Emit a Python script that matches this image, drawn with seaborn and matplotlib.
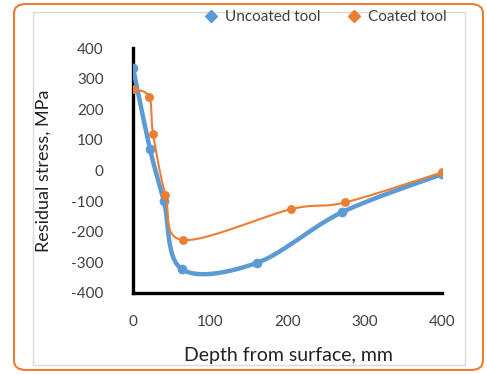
import numpy as np
import pandas as pd
import matplotlib
matplotlib.use("Agg")
import matplotlib.pyplot as plt
from matplotlib.patches import FancyBboxPatch, Rectangle
from matplotlib.lines import Line2D
import seaborn as sns

# Measured residual stress profiles
uncoated_depth = [0, 22, 40, 63, 160, 270, 400]
uncoated_stress = [335, 70, -100, -322, -302, -137, -12]
coated_depth = [0, 21, 26, 42, 65, 205, 275, 400]
coated_stress = [265, 241, 119, -80, -227, -126, -104, -6]

x_ticks = [0, 100, 200, 300, 400]
y_ticks = [-400, -300, -200, -100, 0, 100, 200, 300, 400]

BLUE = "#5B9BD5"
ORANGE = "#ED7D31"
TEXT = "#404040"


def smooth_curve(xs, ys, n=40):
    """Spreadsheet-style smoothed line: cubic Bezier segments with
    Catmull-Rom control points."""
    p = np.column_stack([xs, ys]).astype(float)
    m = len(p)
    out = [p[0]]
    t = np.linspace(0, 1, n)[1:, None]
    for i in range(m - 1):
        p0 = p[i - 1] if i > 0 else p[i]
        p1, p2 = p[i], p[i + 1]
        p3 = p[i + 2] if i + 2 < m else p[i + 1]
        c1 = p1 + (p2 - p0) / 6.0
        c2 = p2 - (p3 - p1) / 6.0
        seg = ((1 - t) ** 3) * p1 + 3 * ((1 - t) ** 2) * t * c1 \
            + 3 * (1 - t) * t ** 2 * c2 + t ** 3 * p2
        out.extend(seg)
    out = np.array(out)
    return out[:, 0], out[:, 1]


sns.set_theme(style="white")
plt.rcParams["font.family"] = ["Lato", "DejaVu Sans"]

fig = plt.figure(figsize=(4.87, 3.74), dpi=100)
W, H = 487, 374

# Outer rounded orange border and inner light frame
fig.patches.append(FancyBboxPatch((14 / W, 4 / H), 469 / W, 366 / H,
                                  boxstyle="round,pad=0,rounding_size=0.025",
                                  transform=fig.transFigure, fill=False,
                                  edgecolor=ORANGE, linewidth=1.5, zorder=0))
fig.patches.append(Rectangle((33 / W, 9 / H), 432 / W, 353 / H,
                             transform=fig.transFigure, fill=False,
                             edgecolor="#d9d9d9", linewidth=1.0, zorder=0))

ax = fig.add_axes([133 / W, 1 - 293 / H, (442 - 133) / W, (293 - 48) / H])
ax.set_facecolor("none")

df_u = pd.DataFrame({"depth": uncoated_depth, "stress": uncoated_stress})
df_c = pd.DataFrame({"depth": coated_depth, "stress": coated_stress})

xu, yu = smooth_curve(df_u["depth"], df_u["stress"])
xc, yc = smooth_curve(df_c["depth"], df_c["stress"])
sns.lineplot(x=xu, y=yu, sort=False, color=BLUE, linewidth=3.2, ax=ax,
             estimator=None, zorder=3)
sns.scatterplot(data=df_u, x="depth", y="stress", color=BLUE, s=42,
                edgecolor=BLUE, linewidth=0.5, ax=ax, zorder=4)
sns.lineplot(x=xc, y=yc, sort=False, color=ORANGE, linewidth=1.5, ax=ax,
             estimator=None, zorder=5)
sns.scatterplot(data=df_c, x="depth", y="stress", color=ORANGE, s=34,
                edgecolor=ORANGE, linewidth=0.5, ax=ax, zorder=6)

ax.set_xlim(0, 400)
ax.set_ylim(-400, 400)
ax.set_xticks(x_ticks)
ax.set_yticks(y_ticks)
ax.set_xticklabels([str(v) for v in x_ticks])
ax.set_yticklabels([str(v) for v in y_ticks])

for side in ("top", "right"):
    ax.spines[side].set_visible(False)
for side in ("left", "bottom"):
    ax.spines[side].set_color("black")
    ax.spines[side].set_linewidth(2.4)
    ax.spines[side].set_capstyle("projecting")

ax.tick_params(axis="x", direction="out", length=6, width=2.2, color="black",
               pad=10, labelsize=11, labelcolor=TEXT)
ax.tick_params(axis="y", direction="out", length=6, width=2.2, color="black",
               pad=15, labelsize=11, labelcolor=TEXT)
for lab in ax.get_yticklabels():
    lab.set_horizontalalignment("right")

ax.set_xlabel("Depth from surface, mm", fontsize=14, color="#222222")
ax.set_ylabel("Residual stress, MPa", fontsize=13, color="#222222")
ax.xaxis.set_label_coords((288 - 133) / (442 - 133), -(355 - 293) / (293 - 48))
ax.yaxis.set_label_coords(-(133 - 44) / (442 - 133), (293 - 171) / (293 - 48))
ax.xaxis.label.set_verticalalignment("center")
ax.yaxis.label.set_verticalalignment("center")

handles = [Line2D([], [], linestyle="none", marker="D", markersize=6,
                  color=BLUE),
           Line2D([], [], linestyle="none", marker="D", markersize=6,
                  color=ORANGE)]
fig.legend(handles, ["Uncoated tool", "Coated tool"], loc="center",
           bbox_to_anchor=(324 / W, 1 - 17 / H), ncol=2, frameon=False,
           fontsize=11, handletextpad=0.3, columnspacing=1.6,
           handlelength=1.2, labelcolor=TEXT)

fig.savefig("out.png", dpi=100)
